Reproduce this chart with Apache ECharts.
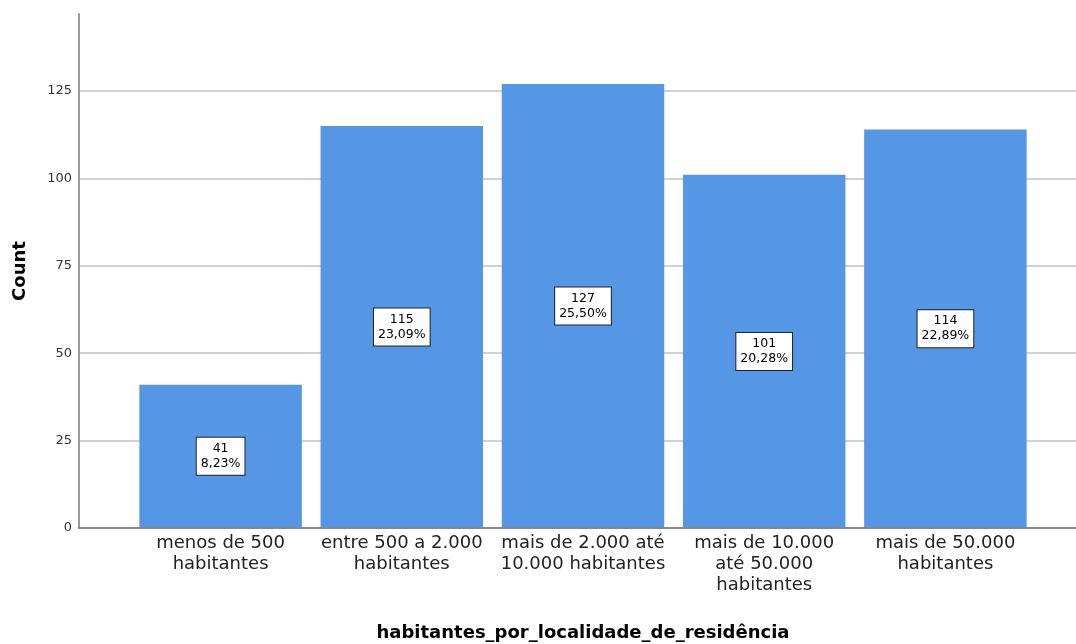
<!DOCTYPE html>
<html>
<head>
<meta charset="utf-8">
<script src="https://cdn.jsdelivr.net/npm/echarts@6/dist/echarts.min.js"></script>
<style>
html,body{margin:0;padding:0;background:#fff;}
#chart{width:1076px;height:644px;}
</style>
</head>
<body>
<div id="chart"></div>
<script>
var categories = [
  'menos de 500\nhabitantes',
  'entre 500 a 2.000\nhabitantes',
  'mais de 2.000 até\n10.000 habitantes',
  'mais de 10.000\naté 50.000\nhabitantes',
  'mais de 50.000\nhabitantes'
];
var counts = [41, 115, 127, 101, 114];
var yTicks = [0, 25, 50, 75, 100, 125];
var yMax = 147;
var xAxisTitle = 'habitantes_por_localidade_de_residência';
var yAxisTitle = 'Count';

var total = counts.reduce(function (a, b) { return a + b; }, 0);
var FONT = 'DejaVu Sans';

var chart = echarts.init(document.getElementById('chart'), null, {renderer: 'canvas'});
chart.setOption({
  animation: false,
  backgroundColor: '#ffffff',
  grid: [
    {left: 79, right: 0, top: 14, bottom: 116, outerBoundsMode: 'none', containLabel: false},
    {left: 130, right: 40, top: 14, bottom: 116, outerBoundsMode: 'none', containLabel: false}
  ],
  xAxis: [
    {
      type: 'value', gridIndex: 0, min: 0, max: 1, z: 3,
      axisLine: {show: true, lineStyle: {color: '#888888', width: 2}},
      axisTick: {show: false}, axisLabel: {show: false}, splitLine: {show: false}
    },
    {
      type: 'category', gridIndex: 1, data: categories,
      axisLine: {show: false}, axisTick: {show: false},
      axisLabel: {
        interval: 0, margin: 5, fontFamily: FONT, fontSize: 18,
        lineHeight: 21, color: '#222222', align: 'center'
      },
      name: xAxisTitle, nameLocation: 'middle', nameGap: 96,
      nameTextStyle: {fontFamily: FONT, fontSize: 18, fontWeight: 'bold', color: '#000000'}
    }
  ],
  yAxis: [
    {
      type: 'value', gridIndex: 0, min: yTicks[0], max: yMax,
      interval: yTicks[1] - yTicks[0],
      axisLine: {show: true, lineStyle: {color: '#999999', width: 2}},
      axisTick: {show: false},
      axisLabel: {
        margin: 7, fontFamily: FONT, fontSize: 13, color: '#333333',
        showMaxLabel: false,
        formatter: function (v) { return yTicks.indexOf(v) >= 0 ? String(v) : ''; }
      },
      splitLine: {show: true, showMaxLine: false, lineStyle: {color: '#d2d2d2', width: 2}},
      name: yAxisTitle, nameLocation: 'middle', nameGap: 50,
      nameTextStyle: {fontFamily: FONT, fontSize: 18, fontWeight: 'bold', color: '#000000'}
    },
    {
      type: 'value', gridIndex: 1, min: yTicks[0], max: yMax, show: false
    }
  ],
  series: [{
    type: 'bar', xAxisIndex: 1, yAxisIndex: 1,
    data: counts,
    barWidth: 162.5,
    itemStyle: {color: '#5596E5'},
    label: {
      show: true, position: 'inside',
      fontFamily: FONT, fontSize: 12.5, lineHeight: 15, color: '#000000',
      backgroundColor: '#ffffff', borderColor: '#222222', borderWidth: 1,
      padding: [4, 4, 3, 4], align: 'center',
      formatter: function (p) {
        var pct = (p.value / total * 100).toFixed(2).replace('.', ',');
        return p.value + '\n' + pct + '%';
      }
    }
  }]
});
</script>
</body>
</html>
